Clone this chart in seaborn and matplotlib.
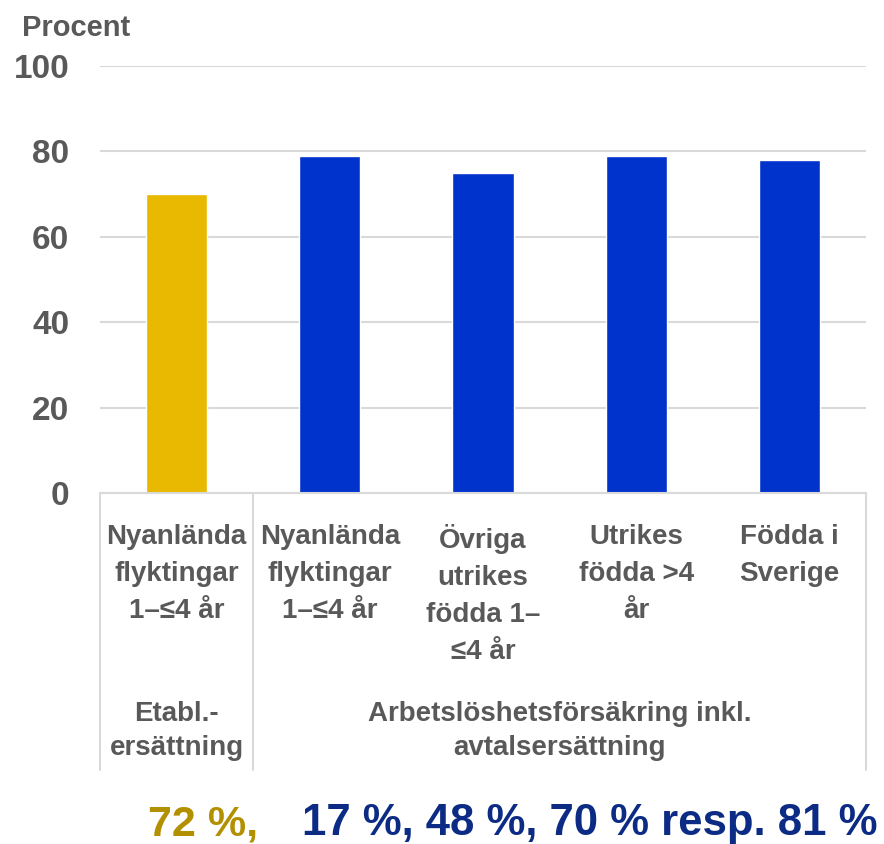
import matplotlib
matplotlib.use("Agg")
import matplotlib.pyplot as plt
import matplotlib.transforms as mtransforms
import seaborn as sns
import pandas as pd

# ---- data ----
category_ids = ["etabl_nyanl", "akassa_nyanl", "akassa_ovriga", "akassa_utrikes", "akassa_fodda"]
tick_labels = ["Nyanlända\nflyktingar\n1–≤4 år",
               "Nyanlända\nflyktingar\n1–≤4 år",
               "Övriga\nutrikes\nfödda 1–\n≤4 år",
               "Utrikes\nfödda >4\når",
               "Födda i\nSverige"]
values = [70, 79, 75, 79, 78]
bar_colors = ["#E8B900", "#0033CC", "#0033CC", "#0033CC", "#0033CC"]
group_labels = ["Etabl.-\nersättning", "Arbetslöshetsförsäkring inkl.\navtalsersättning"]
group_spans = [(-0.5, 0.5), (0.5, 4.5)]
y_ticks = [0, 20, 40, 60, 80, 100]
footer_gold = "72 %,"
footer_blue = "17 %, 48 %, 70 % resp. 81 %"

sns.set_theme(style="white")
plt.rcParams["font.family"] = ["Liberation Sans", "DejaVu Sans"]
plt.rcParams["font.weight"] = "bold"

TXT = "#595959"
GRID = "#D9D9D9"
W, H = 884, 844
fig = plt.figure(figsize=(W / 100, H / 100), dpi=100)

def fx(px):
    return px / W

def fy(py):
    return 1 - py / H

ax_left, ax_right, ax_top, ax_bottom = 100, 866, 66, 493
ax = fig.add_axes([fx(ax_left), fy(ax_bottom), fx(ax_right - ax_left), (ax_bottom - ax_top) / H])

df = pd.DataFrame({"kategori": category_ids, "procent": values})
sns.barplot(data=df, x="kategori", y="procent", hue="kategori",
            palette=dict(zip(category_ids, bar_colors)), width=0.4,
            legend=False, ax=ax, saturation=1)

ax.set_ylim(0, 100)
ax.set_xlim(-0.5, 4.5)
ax.set_yticks(y_ticks)
ax.set_yticklabels([str(v) for v in y_ticks])
ax.set_xticks(range(len(category_ids)))
ax.set_xticklabels(tick_labels, linespacing=1.55)
ax.set_xlabel("")
ax.set_ylabel("")
ax.yaxis.grid(True, color=GRID, linewidth=1.5)
ax.set_axisbelow(True)
for s in ["top", "right", "left"]:
    ax.spines[s].set_visible(False)
ax.spines["bottom"].set_color(GRID)
ax.spines["bottom"].set_linewidth(1.5)
ax.tick_params(axis="y", length=0, pad=22, labelsize=24, labelcolor=TXT)
ax.tick_params(axis="x", length=0, pad=22, labelsize=20, labelcolor=TXT)
for lab in ax.get_xticklabels() + ax.get_yticklabels():
    lab.set_fontweight("bold")

# vertical separators below the axis
trans = mtransforms.blended_transform_factory(ax.transData, ax.transAxes)
sep_bottom = -(770 - ax_bottom) / (ax_bottom - ax_top)
for xs in [-0.5, 0.5, 4.5]:
    ax.plot([xs, xs], [0, sep_bottom], transform=trans, color=GRID,
            linewidth=1.5, clip_on=False)

# group labels
for lab, (a, b) in zip(group_labels, group_spans):
    ax.text((a + b) / 2, -(701 - ax_bottom) / (ax_bottom - ax_top), lab,
            transform=trans, ha="center", va="top", fontsize=20,
            color=TXT, fontweight="bold", linespacing=1.4)

fig.text(fx(22), fy(28), "Procent", ha="left", va="center", fontsize=21,
         color=TXT, fontweight="bold")

fig.text(fx(148), fy(835), footer_gold, ha="left", va="baseline", fontsize=31,
         color="#B39000", fontweight="bold")
fig.text(fx(302), fy(835), footer_blue, ha="left", va="baseline", fontsize=31.5,
         color="#0C2B84", fontweight="bold")

fig.savefig("out.png", dpi=100)
